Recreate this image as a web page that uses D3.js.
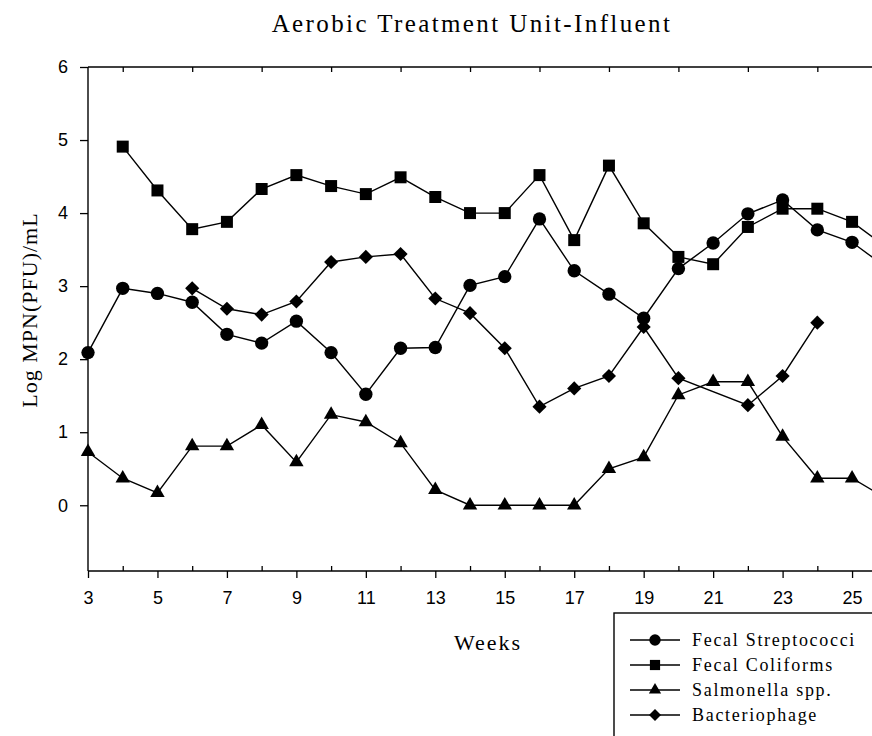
<!DOCTYPE html>
<html>
<head>
<meta charset="utf-8">
<script src="https://cdn.jsdelivr.net/npm/d3@7"></script>
<style>
  body { margin: 0; background: #fff; }
  svg { display: block; }
  .tick text { font-family: "Liberation Sans", Arial, sans-serif; font-size: 18px; fill: #000; }
  .serif { font-family: "Liberation Serif", "Times New Roman", serif; fill: #000; }
</style>
</head>
<body>
<div id="chart"></div>
<script>
// weeks of sampling
const weeks = [3, 4, 5, 6, 7, 8, 9, 10, 11, 12, 13, 14, 15, 16, 17, 18, 19, 20, 21, 22, 23, 24, 25, 26];

// log values (null = no sample)
const fecalStrep = [2.09, 2.97, 2.90, 2.78, 2.34, 2.22, 2.52, 2.09, 1.52, 2.15, 2.16, 3.01, 3.13, 3.92, 3.21, 2.89, 2.56, 3.24, 3.59, 3.99, 4.18, 3.77, 3.60, 3.25];
const fecalColi = [null, 4.91, 4.31, 3.78, 3.88, 4.33, 4.52, 4.37, 4.26, 4.49, 4.22, 4.00, 4.00, 4.52, 3.63, 4.65, 3.86, 3.40, 3.30, 3.81, 4.06, 4.06, 3.88, 3.53];
const salmonella = [0.73, 0.37, 0.17, 0.81, 0.81, 1.10, 0.59, 1.24, 1.14, 0.85, 0.21, 0, 0, 0, 0, 0.50, 0.66, 1.51, 1.69, 1.69, 0.94, 0.37, 0.37, 0.09];
const phage = [null, null, null, 2.97, 2.69, 2.61, 2.79, 3.33, 3.40, 3.44, 2.83, 2.63, 2.15, 1.35, 1.60, 1.77, 2.44, 1.74, null, 1.37, 1.77, 2.50, null, null];

const seriesNames = ["Fecal Streptococci", "Fecal Coliforms", "Salmonella spp.", "Bacteriophage"];
const seriesValues = [fecalStrep, fecalColi, salmonella, phage];

const yTicks = [0, 1, 2, 3, 4, 5, 6];
const xLabelTicks = [3, 5, 7, 9, 11, 13, 15, 17, 19, 21, 23, 25];
const xMinorTicks = [4, 6, 8, 10, 12, 14, 16, 18, 20, 22, 24, 26];

const width = 872, height = 736;
const margin = { top: 67, left: 88 };

const svg = d3.select("#chart").append("svg")
  .attr("width", width)
  .attr("height", height);

// one week ~34.73px, plot runs off the right edge
const x = d3.scaleLinear().domain([3, 26]).range([margin.left, margin.left + 23 * 34.73]);
const y = d3.scaleLinear().domain([-0.9, 6]).range([571, margin.top]);

const symbols = [
  d3.symbol().type(d3.symbolCircle).size(140),
  d3.symbol().type(d3.symbolSquare).size(144),
  d3.symbol().type(d3.symbolTriangle).size(90),
  d3.symbol().type(d3.symbolSquare).size(100)
];
const rotations = [0, 0, 0, 45];

// axes
const xAxisG = svg.append("g").attr("transform", `translate(0,${y(-0.9)})`);
xAxisG.call(d3.axisBottom(x).tickValues(xLabelTicks).tickSize(7).tickPadding(13).tickFormat(d3.format("d")));
xAxisG.append("g").call(d3.axisBottom(x).tickValues(xMinorTicks).tickSize(-5).tickFormat(""))
  .select(".domain").remove();

const topAxisG = svg.append("g").attr("transform", `translate(0,${margin.top})`);
topAxisG.call(d3.axisTop(x).tickValues(xMinorTicks).tickSize(-5).tickFormat(""));

const yAxisG = svg.append("g").attr("transform", `translate(${margin.left},0)`);
yAxisG.call(d3.axisLeft(y).tickValues(yTicks).tickSize(8).tickPadding(12).tickFormat(d3.format("d")));

svg.selectAll(".domain").attr("stroke", "#000").attr("stroke-width", 1.4);
svg.selectAll(".tick line").attr("stroke", "#000").attr("stroke-width", 1.3);
// axis paths without outer end ticks
xAxisG.select(".domain").attr("d", `M${x(3)},0H${width}`);
topAxisG.select(".domain").attr("d", `M${x(3)},0H${width}`);
yAxisG.select(".domain").attr("d", `M0,${y(6)}V${y(-0.9)}`);

// series
const line = d3.line()
  .x(d => x(d.w))
  .y(d => y(d.v));

seriesValues.forEach((vals, i) => {
  const valid = weeks.map((w, j) => ({ w, v: vals[j] })).filter(d => d.v !== null);
  svg.append("path")
    .datum(valid)
    .attr("fill", "none")
    .attr("stroke", "#000")
    .attr("stroke-width", 1.4)
    .attr("d", line);
  svg.append("g").selectAll("path")
    .data(valid)
    .join("path")
    .attr("d", symbols[i])
    .attr("fill", "#000")
    .attr("transform", d => `translate(${x(d.w)},${y(d.v)}) rotate(${rotations[i]})`);
});

// title and axis labels
svg.append("text").attr("class", "serif")
  .attr("x", 472).attr("y", 32)
  .attr("text-anchor", "middle")
  .style("font-size", "25px").style("letter-spacing", "2.4px")
  .text("Aerobic Treatment Unit-Influent");

svg.append("text").attr("class", "serif")
  .attr("transform", "translate(37,310) rotate(-90)")
  .attr("text-anchor", "middle")
  .style("font-size", "22px").style("letter-spacing", "1px")
  .text("Log MPN(PFU)/mL");

svg.append("text").attr("class", "serif")
  .attr("x", 488).attr("y", 650)
  .attr("text-anchor", "middle")
  .style("font-size", "22px").style("letter-spacing", "2px")
  .text("Weeks");

// legend
const legend = svg.append("g").attr("transform", "translate(614,613)");
legend.append("rect")
  .attr("width", 300).attr("height", 200)
  .attr("fill", "#fff").attr("stroke", "#000").attr("stroke-width", 1.4);

const item = legend.selectAll("g.item")
  .data(seriesNames)
  .join("g")
  .attr("class", "item")
  .attr("transform", (d, i) => `translate(0,${27 + i * 25})`);

item.append("line")
  .attr("x1", 16).attr("x2", 66)
  .attr("stroke", "#000").attr("stroke-width", 1.4);
item.append("path")
  .attr("d", (d, i) => symbols[i]())
  .attr("fill", "#000")
  .attr("transform", (d, i) => `translate(41,0) rotate(${rotations[i]}) scale(0.85)`);
item.append("text").attr("class", "serif")
  .attr("x", 78).attr("dy", "0.35em")
  .style("font-size", "18px").style("letter-spacing", "1.7px")
  .text(d => d);
</script>
</body>
</html>
